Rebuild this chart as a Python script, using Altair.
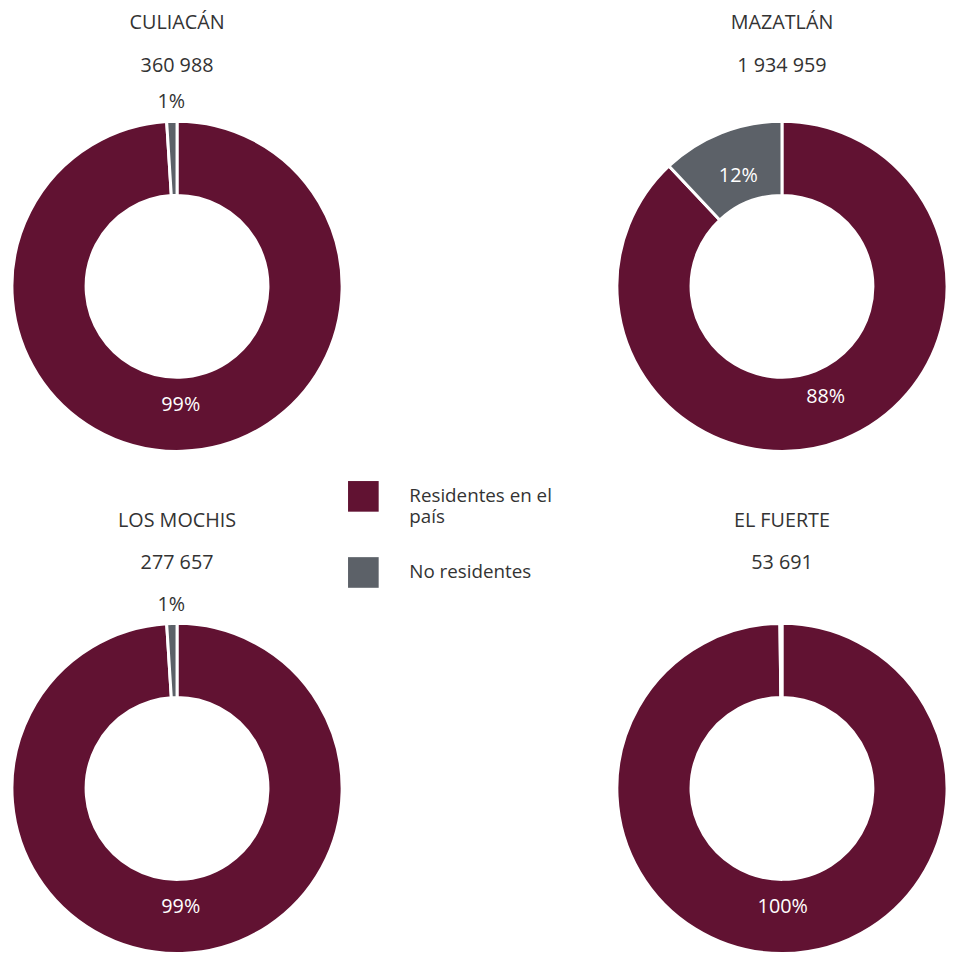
import altair as alt
import pandas as pd

# ---- data ----
cities = ["Culiacán", "Mazatlán", "Los Mochis", "El Fuerte"]
totals = ["360 988", "1 934 959", "277 657", "53 691"]
categories = ["Residentes en el país", "No residentes"]
resident_pct = [99, 88, 99, 99.8]
nonresident_pct = [1, 12, 1, 0.2]

MAROON = "#611232"
GRAY = "#5C6168"
TEXT = "#333333"
FONT = "Open Sans"

rows = []
for city, total, r, n in zip(cities, totals, resident_pct, nonresident_pct):
    rows.append({"city": city, "total": total, "category": categories[0], "pct": r, "order": 0})
    rows.append({"city": city, "total": total, "category": categories[1], "pct": n, "order": 1})
df = pd.DataFrame(rows)

color = alt.Color(
    "category:N",
    scale=alt.Scale(domain=categories, range=[MAROON, GRAY]),
    legend=alt.Legend(
        title=None,
        orient="none",
        legendX=340,
        legendY=397,
        symbolType="square",
        symbolSize=961,
        symbolStrokeWidth=0,
        symbolOpacity=1,
        labelFont=FONT,
        labelFontSize=19,
        labelColor=TEXT,
        labelOffset=31,
        labelLimit=400,
        rowPadding=30,
        labelExpr="datum.label == 'Residentes en el país' ? ['Residentes en el', 'país'] : datum.label",
    ),
)

theta_scale = alt.Scale(domain=[0, 100])


def donut(city, total, view_h, title_offset):
    base = (
        alt.Chart(df)
        .transform_filter(alt.datum.city == city)
        .transform_stack(
            stack="pct", groupby=["city"], as_=["v0", "v1"], sort=[alt.SortField("order")]
        )
        .transform_calculate(
            mid="(datum.v0 + datum.v1) / 2",
            label="format(round(datum.pct), 'd') + '%'",
            show="datum.pct >= 0.5 ? 1 : 0",
        )
    )
    arcs = base.mark_arc(
        innerRadius=92, outerRadius=167, stroke="white", strokeWidth=3
    ).encode(
        theta=alt.Theta("v0:Q", scale=theta_scale),
        theta2="v1:Q",
        color=color,
    )
    inner = (
        base.transform_filter(alt.datum.pct >= 5)
        .mark_text(radius=120, font=FONT, fontSize=20, color="white")
        .encode(theta=alt.Theta("mid:Q", scale=theta_scale), text="label:N")
    )
    outer_t = (
        base.transform_filter(alt.datum.pct < 5)
        .mark_text(radius=186, font=FONT, fontSize=20, color=TEXT)
        .encode(
            theta=alt.Theta("mid:Q", scale=theta_scale),
            text="label:N",
            opacity=alt.Opacity("show:Q", scale=None),
        )
    )
    return alt.layer(arcs, inner, outer_t).properties(
        width=334,
        height=view_h,
        title=alt.TitleParams(
            text=city.upper(),
            subtitle=total,
            font=FONT,
            fontSize=20,
            fontWeight="normal",
            color=TEXT,
            subtitleFont=FONT,
            subtitleFontSize=20,
            subtitleColor=TEXT,
            subtitlePadding=23,
            anchor="middle",
            frame="group",
            offset=title_offset,
        ),
    )


charts = [
    donut(cities[0], totals[0], 400, 13),
    donut(cities[1], totals[1], 400, 13),
    donut(cities[2], totals[2], 334, 22),
    donut(cities[3], totals[3], 334, 22),
]

chart = (
    alt.concat(*charts, columns=2, spacing={"row": 141, "column": 278}, bounds="flush")
    .resolve_scale(color="shared")
    .properties(padding={"top": 0, "bottom": -4, "left": -2, "right": -2})
    .configure_view(stroke=None)
)

chart.save("out.html", embed_options={"renderer": "svg", "actions": False})
